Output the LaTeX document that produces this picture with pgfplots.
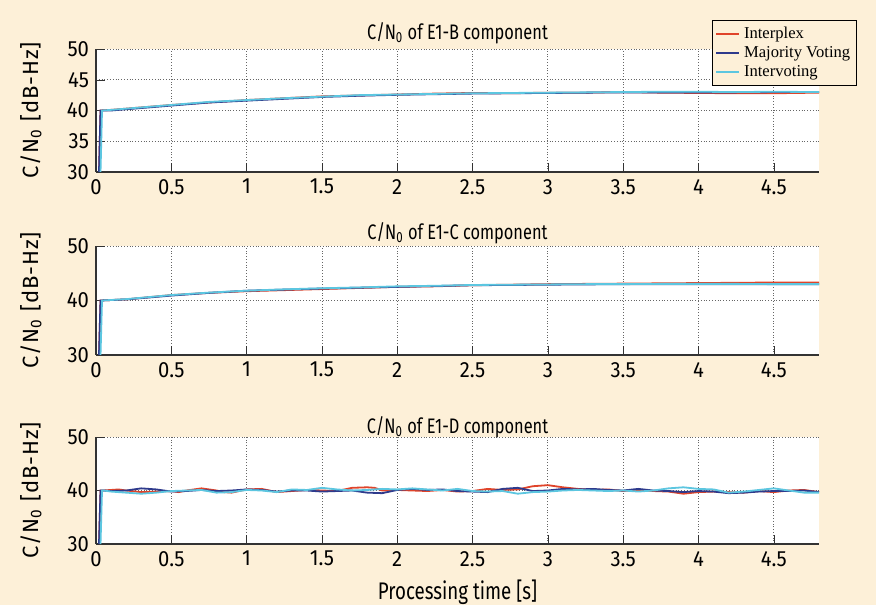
\documentclass[border=0pt]{standalone}
\usepackage{pgfplots}
\pgfplotsset{compat=1.18}
\usepackage{fontspec}
\setmainfont{Fira Sans}[FakeStretch=0.78]
\newfontfamily\tickfont{Fira Sans}[FakeStretch=0.92]
\newfontfamily\ylabfont{Fira Sans}[LetterSpace=4]
\newfontfamily\legfont{Liberation Serif}

\definecolor{bgc}{HTML}{FDF0D8}
\definecolor{cint}{HTML}{E0442A}
\definecolor{cmaj}{HTML}{2E3A8C}
\definecolor{cvot}{HTML}{5CC6E0}

\pgfplotsset{
  cnplot/.style={
    scale only axis,
    width=361.5pt,
    anchor=south west,
    xmin=0, xmax=4.8,
    ymin=30, ymax=50,
    xtick={0,0.5,...,4.5},
    axis x line*=bottom,
    axis y line*=left,
    axis line style={-, line width=0.8pt, black!80},
    tick align=inside,
    tick style={black!80},
    grid=major,
    major grid style={densely dotted, black!60},
    axis background/.style={fill=white},
    tick label style={font=\tickfont\fontsize{11}{13}\selectfont},
    /pgf/number format/assume math mode=true,
    xlabel style={font=\fontsize{12}{14}\selectfont},
    ylabel={C/N\textsubscript{0} [dB-Hz]},
    ylabel style={font=\ylabfont\fontsize{11}{13}\selectfont,
      at={(axis description cs:-0.09,0.5)}, anchor=center},
    title style={font=\fontsize{10.5}{12}\selectfont},
    every axis plot/.append style={line width=0.9pt},
  }
}

\begin{document}
\begin{tikzpicture}
\useasboundingbox (0,0) rectangle (438pt,302.5pt);
\fill[bgc] (0,0) rectangle (438pt,302.5pt);

% E1-B
\begin{axis}[cnplot,
  at={(48pt,216.5pt)}, height=61.5pt,
  ytick={30,35,40,45,50},
  title={C/N\textsubscript{0} of E1-B component},
  title style={yshift=-7pt},
  legend style={at={(1.0526,1.236)}, anchor=north east,
    fill=bgc, draw=black, font=\legfont\fontsize{8.3}{9}\selectfont,
    inner sep=1.2pt, row sep=-1.5pt},
  legend cell align=left,
  legend image code/.code={\draw[#1, line width=1.1pt] (0cm,0cm) -- (0.4cm,0cm);},
]
\addplot[cint] coordinates {(0.02,30)(0.03,40)(0.1,40.1)(0.3,40.5)(0.5,40.9)(0.75,41.3)(1,41.7)(1.25,42.0)(1.5,42.3)(1.75,42.45)(2,42.6)(2.25,42.75)(2.5,42.85)(2.75,42.8)(3,42.9)(3.25,42.9)(3.5,43.0)(3.75,42.9)(4,42.85)(4.25,42.8)(4.5,42.8)(4.8,42.9)};
\addplot[cmaj] coordinates {(0.02,30)(0.03,40)(0.1,40.0)(0.3,40.4)(0.5,40.8)(0.75,41.3)(1,41.6)(1.25,41.9)(1.5,42.2)(1.75,42.4)(2,42.55)(2.25,42.65)(2.5,42.75)(2.75,42.8)(3,42.85)(3.25,42.9)(3.5,42.95)(3.75,42.95)(4,42.95)(4.25,42.95)(4.5,43.0)(4.8,43.0)};
\addplot[cvot] coordinates {(0.03,30)(0.04,40)(0.1,40.1)(0.3,40.5)(0.5,40.9)(0.75,41.4)(1,41.7)(1.25,42.0)(1.5,42.25)(1.75,42.5)(2,42.6)(2.25,42.7)(2.5,42.8)(2.75,42.85)(3,42.9)(3.25,42.95)(3.5,43.0)(3.75,43.05)(4,43.05)(4.25,43.0)(4.5,43.05)(4.8,43.0)};
\legend{Interplex, Majority Voting, Intervoting}
\end{axis}

% E1-C
\begin{axis}[cnplot,
  at={(48pt,125pt)}, height=54.5pt,
  ytick={30,40,50},
  title={C/N\textsubscript{0} of E1-C component},
  title style={yshift=-8.5pt},
]
\addplot[cint] coordinates {(0.02,30)(0.03,40)(0.2,40.2)(0.5,41.0)(0.75,41.4)(1,41.7)(1.25,41.9)(1.5,42.1)(1.75,42.3)(2,42.5)(2.25,42.6)(2.5,42.8)(2.75,42.9)(3,43.0)(3.25,43.05)(3.5,43.1)(3.75,43.15)(4,43.2)(4.25,43.25)(4.5,43.3)(4.8,43.3)};
\addplot[cmaj] coordinates {(0.02,30)(0.03,40)(0.2,40.2)(0.5,40.9)(0.75,41.4)(1,41.8)(1.25,42.0)(1.5,42.2)(1.75,42.35)(2,42.5)(2.25,42.65)(2.5,42.8)(2.75,42.85)(3,42.9)(3.25,42.95)(3.5,43.0)(3.75,43.0)(4,43.0)(4.25,43.0)(4.5,43.0)(4.8,43.0)};
\addplot[cvot] coordinates {(0.03,30)(0.04,40)(0.2,40.25)(0.5,41.0)(0.75,41.45)(1,41.8)(1.25,42.05)(1.5,42.25)(1.75,42.4)(2,42.6)(2.25,42.7)(2.5,42.85)(2.75,42.9)(3,42.95)(3.25,43.0)(3.5,43.0)(3.75,43.05)(4,43.05)(4.25,43.05)(4.5,43.0)(4.8,43.0)};
\end{axis}

% E1-D
\begin{axis}[cnplot,
  at={(48pt,30.5pt)}, height=53.5pt,
  ytick={30,40,50},
  title={C/N\textsubscript{0} of E1-D component},
  title style={yshift=-10pt},
  xlabel={Processing time [s]},
]
\addplot[cint] coordinates {(0.02,30)(0.03,40)(0.05,40.0)(0.1,40.1)(0.15,40.2)(0.2,40.0)(0.3,39.7)(0.4,39.8)(0.5,39.9)(0.55,39.7)(0.6,40.0)(0.7,40.4)(0.8,40.0)(0.85,39.7)(0.9,39.6)(1.0,40.2)(1.1,40.3)(1.2,39.7)(1.3,39.9)(1.4,40.1)(1.5,40.0)(1.6,39.9)(1.7,40.5)(1.8,40.6)(1.85,40.5)(1.9,40.0)(2.0,40.1)(2.1,40.0)(2.2,39.9)(2.3,40.1)(2.4,39.8)(2.5,39.9)(2.6,40.3)(2.7,40.1)(2.8,40.2)(2.9,40.8)(3.0,41.0)(3.1,40.6)(3.2,40.3)(3.3,40.1)(3.4,40.2)(3.5,39.9)(3.6,40.1)(3.7,39.9)(3.8,39.8)(3.9,39.4)(4.0,39.7)(4.1,39.8)(4.2,39.7)(4.3,39.6)(4.4,39.9)(4.5,39.7)(4.6,40.0)(4.7,40.1)(4.8,39.7)};
\addplot[cmaj] coordinates {(0.02,30)(0.03,40)(0.05,40.0)(0.1,39.9)(0.2,40.0)(0.3,40.4)(0.4,40.2)(0.5,39.8)(0.6,39.9)(0.7,40.1)(0.8,39.9)(0.9,40.0)(1.0,40.2)(1.1,40.1)(1.2,39.8)(1.3,40.0)(1.4,40.0)(1.5,39.8)(1.6,39.9)(1.7,40.0)(1.8,39.6)(1.9,39.5)(2.0,40.1)(2.1,40.3)(2.2,40.1)(2.3,40.2)(2.4,39.9)(2.5,39.8)(2.6,39.7)(2.7,40.3)(2.8,40.5)(2.9,39.9)(3.0,40.0)(3.1,40.3)(3.2,40.2)(3.3,40.3)(3.4,40.1)(3.5,40.0)(3.6,40.3)(3.7,40.0)(3.8,39.9)(3.9,39.7)(4.0,39.9)(4.1,39.8)(4.2,39.5)(4.3,39.6)(4.4,39.8)(4.5,39.9)(4.6,39.9)(4.7,40.0)(4.8,39.7)};
\addplot[cvot] coordinates {(0.03,30)(0.04,40)(0.05,40.0)(0.1,39.8)(0.2,39.6)(0.3,39.4)(0.4,39.6)(0.5,39.9)(0.6,40.0)(0.7,40.1)(0.8,39.6)(0.9,39.7)(1.0,40.1)(1.1,40.0)(1.2,39.7)(1.3,40.2)(1.4,40.1)(1.5,40.5)(1.6,40.2)(1.7,40.0)(1.8,40.1)(1.9,40.3)(2.0,40.2)(2.1,40.4)(2.2,40.2)(2.3,40.0)(2.4,40.3)(2.5,39.9)(2.6,39.8)(2.7,39.9)(2.8,39.4)(2.9,39.7)(3.0,39.8)(3.1,40.0)(3.2,40.1)(3.3,40.0)(3.4,39.9)(3.5,40.0)(3.6,39.8)(3.7,40.0)(3.8,40.4)(3.9,40.6)(4.0,40.3)(4.1,40.2)(4.2,39.6)(4.3,39.8)(4.4,40.1)(4.5,40.4)(4.6,40.0)(4.7,39.6)(4.8,39.6)};
\end{axis}
\end{tikzpicture}
\end{document}
